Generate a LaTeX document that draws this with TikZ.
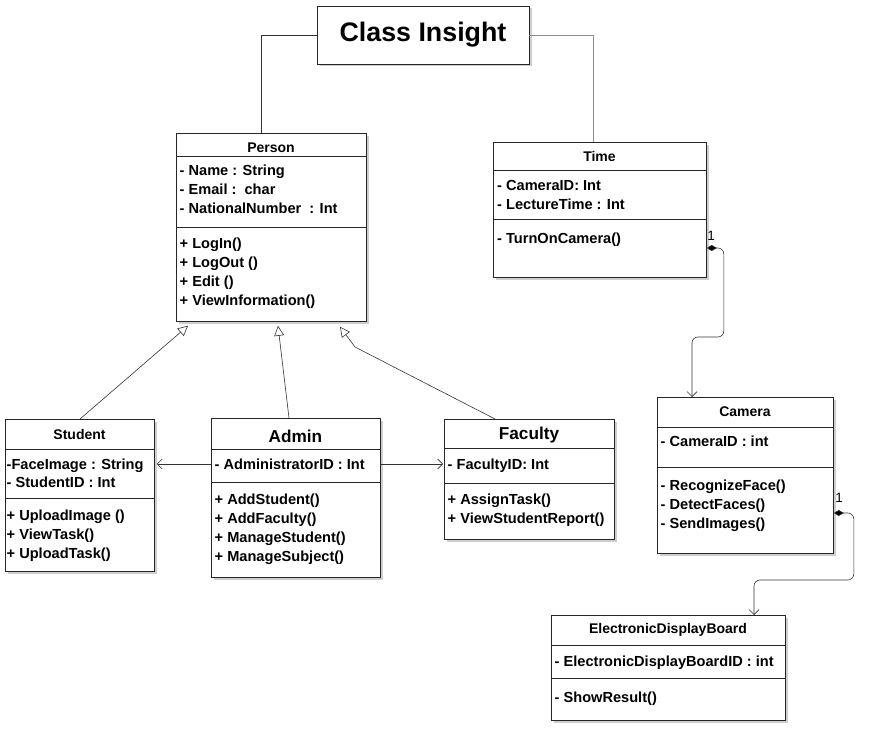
\documentclass[tikz,border=0pt]{standalone}
\usepackage{fontspec}
\setmainfont{Liberation Sans}
\usetikzlibrary{shadows,arrows.meta,calc}
\begin{document}
\begin{tikzpicture}[x=1pt,y=-1pt,
  box/.style={draw=black!85, fill=white, line width=0.8pt, anchor=north west, inner sep=0pt,
    drop shadow={shadow xshift=2.5pt, shadow yshift=-2.5pt, opacity=0.35, fill=black!55}},
  txt/.style={anchor=base west, inner sep=0pt, align=left, font=\fontsize{14.6}{19}\selectfont\bfseries},
  hdr/.style={inner sep=0pt, font=\fontsize{14}{16}\selectfont\bfseries},
  bighdr/.style={inner sep=0pt, font=\fontsize{17.2}{20}\selectfont\bfseries},
  sep/.style={draw=black!85, line width=0.8pt},
  conn/.style={draw=black!80, line width=0.6pt},
  inh/.style={conn, -{Triangle[open, length=10pt, width=10pt]}},
  dep/.style={conn, -{Straight Barb[length=5pt, width=10pt]}},
  comp/.style={conn, rounded corners=6pt, {Diamond[length=10pt, width=6pt, fill=black]}-{Straight Barb[length=5pt, width=10pt]}},
  mult/.style={inner sep=0pt, font=\fontsize{13.5}{15}\selectfont},
]
\useasboundingbox (0,0) rectangle (879,735);

% Title
\node[box, anchor=center, minimum width=212, minimum height=58,
      font=\fontsize{26.8}{30}\selectfont\bfseries] (title) at (423,35) {Class Insight};

% Person (base anchor = baseline of last line)
\node[box, minimum width=190, minimum height=188] (person) at (176,133) {};
\node[hdr] (personH) at (271,148) {Person};
\draw[sep] ($(person.north west)+(0,23)$) -- ($(person.north east)+(0,23)$);
\draw[sep] ($(person.north west)+(0,94)$) -- ($(person.north east)+(0,94)$);
\node[txt] (personA) at (179.5,214) {- Name : String\\- Email :\ \ char\\- NationalNumber\ \ : Int};
\node[txt] (personM) at (179.5,306) {+ LogIn()\\+ LogOut ()\\+ Edit ()\\+ ViewInformation()};

% Time
\node[box, minimum width=213, minimum height=135] (time) at (493,142) {};
\node[hdr] (timeH) at (599.5,156) {Time};
\draw[sep] ($(time.north west)+(0,28)$) -- ($(time.north east)+(0,28)$);
\draw[sep] ($(time.north west)+(0,77)$) -- ($(time.north east)+(0,77)$);
\node[txt] (timeA) at (497,210) {- CameraID: Int\\- LectureTime : Int};
\node[txt] (timeM) at (497,244) {- TurnOnCamera()};

% Student
\node[box, minimum width=149, minimum height=152] (student) at (5,419) {};
\node[hdr] (studentH) at (79.5,434) {Student};
\draw[sep] ($(student.north west)+(0,30)$) -- ($(student.north east)+(0,30)$);
\draw[sep] ($(student.north west)+(0,79)$) -- ($(student.north east)+(0,79)$);
\node[txt] (studentA) at (6.5,488) {-FaceImage : String\\- StudentID : Int};
\node[txt] (studentM) at (6.5,558) {+ UploadImage ()\\+ ViewTask()\\+ UploadTask()};

% Admin
\node[box, minimum width=169, minimum height=159] (admin) at (211,418) {};
\node[bighdr] (adminH) at (295.5,436) {Admin};
\draw[sep] ($(admin.north west)+(0,31)$) -- ($(admin.north east)+(0,31)$);
\draw[sep] ($(admin.north west)+(0,64)$) -- ($(admin.north east)+(0,64)$);
\node[txt] (adminA) at (214.5,469) {- AdministratorID : Int};
\node[txt] (adminM) at (214.5,561) {+ AddStudent()\\+ AddFaculty()\\+ ManageStudent()\\+ ManageSubject()};

% Faculty
\node[box, minimum width=170, minimum height=120] (faculty) at (444,419) {};
\node[bighdr] (facultyH) at (529,435) {Faculty};
\draw[sep] ($(faculty.north west)+(0,29)$) -- ($(faculty.north east)+(0,29)$);
\draw[sep] ($(faculty.north west)+(0,64)$) -- ($(faculty.north east)+(0,64)$);
\node[txt] (facultyA) at (447.5,469) {- FacultyID: Int};
\node[txt] (facultyM) at (447.5,523) {+ AssignTask()\\+ ViewStudentReport()};

% Camera
\node[box, minimum width=176, minimum height=156] (camera) at (657,397) {};
\node[hdr] (cameraH) at (745,412) {Camera};
\draw[sep] ($(camera.north west)+(0,30)$) -- ($(camera.north east)+(0,30)$);
\draw[sep] ($(camera.north west)+(0,70)$) -- ($(camera.north east)+(0,70)$);
\node[txt] (cameraA) at (660.5,447) {- CameraID : int};
\node[txt] (cameraM) at (660.5,528) {- RecognizeFace()\\- DetectFaces()\\- SendImages()};

% ElectronicDisplayBoard
\node[box, minimum width=234, minimum height=105] (edb) at (551,615) {};
\node[hdr] (edbH) at (668,630) {ElectronicDisplayBoard};
\draw[sep] ($(edb.north west)+(0,30)$) -- ($(edb.north east)+(0,30)$);
\draw[sep] ($(edb.north west)+(0,63)$) -- ($(edb.north east)+(0,63)$);
\node[txt] (edbA) at (554.5,666) {- ElectronicDisplayBoardID : int};
\node[txt] (edbM) at (554.5,702) {- ShowResult()};

% Connectors from title
\draw[conn] (title.west) -| ($(person.north west)+(85,0)$);
\draw[conn, draw=black!45] (title.east) -| ($(time.north west)+(100,0)$);

% Inheritance
\draw[inh] ($(student.north west)+(75,0)$) -- ($(person.south west)+(12,4)$);
\draw[inh] ($(admin.north west)+(78,0)$) -- ($(person.south west)+(102,4)$);
\coordinate (fbend) at (355,347);
\draw[inh] ($(faculty.north west)+(51,0)$) -- (fbend) -- ($(person.south west)+(164,5)$);

% Associations
\draw[dep] ($(admin.north west)+(0,46)$) -- ($(student.north east)+(2,45)$);
\draw[dep] ($(admin.north east)+(0,46)$) -- ($(faculty.north west)+(-1,45)$);

% Compositions
\draw[comp] ($(time.north east)+(0,106)$) -- ++(17,0) -- ++(0,89) -| ($(camera.north west)+(35,0)$);
\node[mult] (m1) at (711,236) {1};
\draw[comp] ($(camera.north east)+(0,116)$) -- ++(20,0) -- ++(0,67) -| ($(edb.north west)+(203,0)$);
\node[mult] (m2) at (839,498) {1};
\end{tikzpicture}
\end{document}
